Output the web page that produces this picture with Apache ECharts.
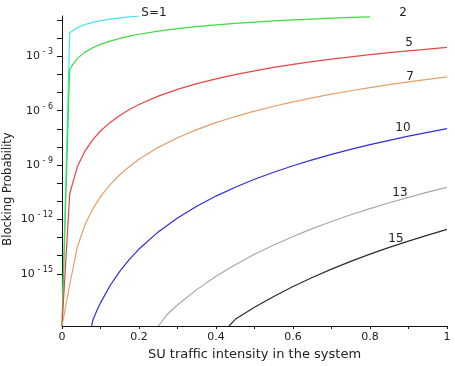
<!DOCTYPE html>
<html><head><meta charset="utf-8">
<script src="https://cdn.jsdelivr.net/npm/echarts@6/dist/echarts.min.js"></script>
<style>html,body{margin:0;padding:0;background:#fff}#c{width:455px;height:366px}</style>
</head><body><div id="c"></div>
<script>
// values are log10(blocking probability)
const yBottom = -17.88;
const yTop = -0.778;
const xTickValues = [0,0.1,0.2,0.3,0.4,0.5,0.6,0.7,0.8,0.9,1];
const xLabelValues = [0,0.2,0.4,0.6,0.8,1];
const yTickExps = [-15,-14,-13,-12,-11,-10,-9,-8,-7,-6,-5,-4,-3,-2,-1];
const yLabelExps = [-15,-12,-9,-6,-3];
const curveNames = ['S=1','2','5','7','10','13','15'];

const s1X = [0,0.02,0.04,0.06,0.08,0.10,0.125,0.15,0.175,0.2];
const s1LogP = [-17.88,-1.707,-1.415,-1.247,-1.130,-1.041,-0.954,-0.885,-0.827,-0.778];

const s2X = [0,0.02,0.04,0.06,0.08,0.10,0.125,0.15,0.175,0.2,0.25,0.3,0.35,0.4,0.45,0.5,0.55,0.6,0.65,0.7,0.75,0.8];
const s2LogP = [-17.88,-3.708,-3.114,-2.771,-2.530,-2.344,-2.161,-2.014,-1.891,-1.785,-1.613,-1.475,-1.363,-1.267,-1.185,-1.114,-1.051,-0.995,-0.945,-0.900,-0.859,-0.821];

const s5X = [0,0.02,0.04,0.06,0.08,0.10,0.125,0.15,0.175,0.2,0.25,0.3,0.35,0.4,0.45,0.5,0.55,0.6,0.65,0.7,0.75,0.8,0.85,0.9,0.95,1];
const s5LogP = [-17.88,-10.583,-9.086,-8.215,-7.599,-7.123,-6.649,-6.264,-5.940,-5.661,-5.198,-4.824,-4.511,-4.243,-4.009,-3.801,-3.616,-3.449,-3.297,-3.158,-3.029,-2.911,-2.801,-2.699,-2.603,-2.513];

const s7X = [0,0.02,0.04,0.06,0.08,0.10,0.125,0.15,0.175,0.2,0.25,0.3,0.35,0.4,0.45,0.5,0.55,0.6,0.65,0.7,0.75,0.8,0.85,0.9,0.95,1];
const s7LogP = [-17.88,-15.604,-13.505,-12.282,-11.416,-10.746,-10.078,-9.535,-9.077,-8.682,-8.025,-7.493,-7.046,-6.662,-6.325,-6.027,-5.759,-5.516,-5.294,-5.091,-4.903,-4.728,-4.566,-4.414,-4.271,-4.137];

const s10X = [0.077,0.08,0.09,0.10,0.125,0.15,0.175,0.2,0.25,0.3,0.35,0.4,0.45,0.5,0.55,0.6,0.65,0.7,0.75,0.8,0.85,0.9,0.95,1];
const s10LogP = [-17.88,-17.564,-17.056,-16.603,-15.645,-14.864,-14.205,-13.636,-12.689,-11.919,-11.271,-10.713,-10.223,-9.787,-9.395,-9.039,-8.713,-8.413,-8.135,-7.876,-7.635,-7.408,-7.195,-6.994];

const s13X = [0.25,0.275,0.3,0.35,0.4,0.45,0.5,0.55,0.6,0.65,0.7,0.75,0.8,0.85,0.9,0.95,1];
const s13LogP = [-17.88,-17.202,-16.722,-15.873,-15.141,-14.498,-13.925,-13.409,-12.939,-12.509,-12.112,-11.744,-11.402,-11.081,-10.780,-10.497,-10.229];

const s15X = [0.434,0.45,0.5,0.55,0.6,0.65,0.7,0.75,0.8,0.85,0.9,0.95,1];
const s15LogP = [-17.88,-17.514,-16.849,-16.250,-15.705,-15.205,-14.744,-14.316,-13.918,-13.544,-13.194,-12.863,-12.551];

const curveX = [s1X,s2X,s5X,s7X,s10X,s13X,s15X];
const curveY = [s1LogP,s2LogP,s5LogP,s7LogP,s10LogP,s13LogP,s15LogP];
const curveColors = ['#3ee4f0','#3ddc3d','#e84545','#e3a068','#2e2ee0','#a8a8a8','#2c2c2c'];
// label anchor positions (pixels) for the curve annotations
const labelPos = [[154,13],[403,13],[409,43],[410,77],[403,128],[400,193],[396,239]];

const FONT = 'DejaVu Sans';
const chart = echarts.init(document.getElementById('c'), null, {renderer:'canvas'});

const series = curveNames.map((n,i) => ({
  type:'line', name:n, showSymbol:false, symbol:'none', clip:true,
  lineStyle:{color:curveColors[i], width:1.2},
  data: curveX[i].map((x,j) => [x, curveY[i][j]])
}));

chart.setOption({
  animation:false,
  backgroundColor:'#fff',
  grid:{left:62, right:8, top:16, bottom:32, containLabel:false},
  xAxis:{
    type:'value', min:0, max:1,
    axisLine:{show:true, lineStyle:{color:'#111', width:1}},
    axisTick:{show:true, inside:false, length:3, customValues:xTickValues, lineStyle:{color:'#111'}},
    axisLabel:{customValues:xLabelValues, margin:6, color:'#222', fontFamily:FONT, fontSize:11},
    splitLine:{show:false},
    name:'SU traffic intensity in the system', nameLocation:'middle', nameGap:22,
    nameTextStyle:{fontFamily:FONT, fontSize:13, color:'#222'}
  },
  yAxis:{
    type:'value', min:yBottom, max:yTop,
    axisLine:{show:true, lineStyle:{color:'#111', width:1}},
    axisTick:{show:true, inside:false, length:5, customValues:yTickExps, lineStyle:{color:'#111'}},
    axisLabel:{
      customValues:yLabelExps, margin:9, color:'#222',
      formatter: v => '{b|10}{s| - ' + Math.abs(Math.round(v)) + '}',
      rich:{
        b:{fontFamily:FONT, fontSize:11, color:'#222', lineHeight:16},
        s:{fontFamily:FONT, fontSize:8, color:'#222', lineHeight:10, verticalAlign:'top'}
      }
    },
    splitLine:{show:false}
  },
  graphic: [
    {type:'text', x:8.5, y:189, rotation:Math.PI/2,
     style:{text:'Blocking Probability', fontFamily:FONT, fontSize:11.5, fill:'#222', align:'center', verticalAlign:'middle'}}
  ].concat(curveNames.map((n,i) => ({
    type:'text', x:labelPos[i][0], y:labelPos[i][1],
    style:{text:n, fontFamily:FONT, fontSize:12, fill:'#222', align:'center', verticalAlign:'middle'}
  }))),
  series: series
});
</script></body></html>
